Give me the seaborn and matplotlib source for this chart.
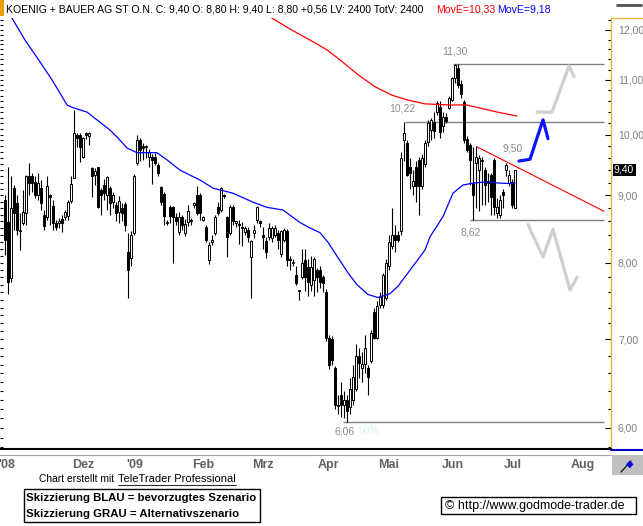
import numpy as np
import matplotlib
matplotlib.use("Agg")
import matplotlib.pyplot as plt
import matplotlib.ticker as mticker
from matplotlib.lines import Line2D
from matplotlib.patches import Rectangle
from matplotlib import font_manager
import seaborn as sns

# ---------------- data ----------------
open_ = [8.93, 8.59, 7.79, 9.12, 8.88, 8.47, 8.58, 8.72, 9.30, 9.30, 9.21, 9.00, 9.11, 8.70, 8.67, 9.00, 8.83, 8.58, 8.57, 8.63,
         8.67, 8.68, 8.91, 9.28, 10.00, 10.00, 9.62, 10.02, 9.98, 9.44, 9.32, 9.45, 9.08, 9.16, 9.00, 9.11, 8.90, 8.85, 8.74, 8.80,
         8.86, 8.15, 8.06, 8.43, 9.52, 9.91, 9.80, 9.78, 9.62, 9.62, 9.62, 9.49, 9.13, 9.02, 8.58, 8.81, 8.81, 8.66, 8.44, 8.66,
         8.42, 8.59, 8.62, 8.84, 9.00, 9.00, 8.62, 8.51, 8.04, 8.30, 8.42, 8.81, 8.77, 8.98, 8.66, 8.42, 8.81, 8.58, 8.55, 8.50,
         8.44, 8.47, 8.08, 8.42, 8.62, 8.60, 8.40, 8.31, 8.37, 8.35, 8.40, 8.43, 8.12, 8.33, 8.45, 8.04, 8.00, 7.83, 7.61, 7.81,
         8.04, 7.94, 7.69, 7.77, 7.90, 7.90, 7.80, 7.60, 7.02, 7.00, 6.66, 6.23, 6.35, 6.25, 6.30, 6.22, 6.30, 6.42, 6.80, 6.66,
         6.71, 6.66, 6.74, 7.34, 7.02, 7.43, 7.43, 7.53, 7.95, 8.23, 8.40, 8.40, 8.45, 9.90, 9.85, 9.45, 9.15, 9.45, 9.57, 9.15,
         9.50, 9.87, 10.08, 10.22, 10.40, 10.50, 10.15, 10.32, 10.48, 10.62, 11.04, 11.24, 10.92, 10.58, 9.92, 9.82, 9.20, 9.52, 9.40, 9.55,
         9.40, 9.21, 9.32, 9.57, 8.72, 8.70, 9.05, 9.40, 9.20, 9.21, 8.80]
high = [9.00, 9.46, 9.31, 9.16, 9.00, 8.72, 9.08, 9.32, 9.52, 9.36, 9.30, 9.36, 9.24, 8.77, 9.31, 9.02, 8.93, 8.62, 8.65, 8.70,
        8.77, 8.93, 9.30, 10.44, 10.02, 10.02, 9.96, 10.05, 10.04, 9.46, 9.44, 9.46, 9.12, 9.25, 9.30, 9.15, 9.05, 8.90, 8.98, 8.88,
        8.90, 8.43, 8.45, 9.33, 10.00, 9.95, 9.85, 9.82, 9.75, 9.66, 9.68, 9.52, 9.15, 9.05, 8.62, 8.85, 8.83, 8.72, 8.74, 8.70,
        8.64, 8.85, 8.65, 8.90, 9.14, 9.04, 8.68, 8.55, 8.30, 8.40, 8.70, 8.90, 9.13, 9.02, 8.68, 8.84, 8.84, 8.60, 8.62, 8.59,
        8.53, 8.51, 8.33, 8.55, 8.83, 8.62, 8.52, 8.36, 8.58, 8.53, 8.55, 8.47, 8.47, 8.50, 8.48, 8.10, 8.05, 7.95, 7.63, 8.20,
        8.20, 8.05, 8.10, 8.08, 7.93, 7.95, 7.83, 7.64, 7.05, 7.04, 6.68, 6.35, 6.50, 6.40, 6.35, 6.55, 6.70, 6.95, 6.90, 6.85,
        7.05, 6.70, 7.12, 7.40, 7.48, 7.60, 7.86, 8.05, 8.40, 8.80, 8.55, 8.45, 9.70, 10.22, 9.90, 9.60, 9.40, 9.55, 9.62, 9.66,
        9.90, 10.25, 10.30, 10.40, 10.60, 10.60, 10.40, 10.38, 10.70, 11.05, 11.30, 11.30, 11.00, 10.62, 9.98, 9.86, 9.78, 9.80, 9.65, 9.62,
        9.45, 9.35, 9.35, 9.60, 8.95, 9.00, 9.10, 9.52, 9.40, 9.25, 9.40]
low = [8.11, 7.57, 7.73, 8.47, 8.40, 8.18, 8.55, 8.55, 9.00, 9.05, 8.95, 8.93, 8.77, 8.47, 8.62, 8.55, 8.47, 8.47, 8.50, 8.44,
       8.62, 8.62, 8.88, 9.28, 9.78, 9.53, 9.60, 9.92, 9.82, 8.97, 9.16, 8.80, 8.70, 8.93, 8.77, 8.70, 8.80, 8.60, 8.58, 8.60,
       8.45, 7.53, 7.95, 8.40, 9.48, 9.55, 9.57, 9.60, 9.45, 9.17, 9.48, 9.30, 8.85, 8.55, 8.55, 8.58, 8.00, 8.55, 8.40, 8.47,
       8.38, 8.53, 8.55, 8.80, 8.70, 8.62, 8.60, 8.30, 7.98, 8.25, 8.40, 8.70, 8.74, 8.96, 8.08, 8.40, 8.55, 8.52, 8.27, 8.23,
       8.40, 8.30, 7.53, 8.35, 8.58, 8.52, 8.20, 8.07, 8.33, 8.30, 8.37, 8.20, 8.08, 8.30, 7.95, 7.90, 7.95, 7.70, 7.50, 7.78,
       7.62, 7.55, 7.62, 7.55, 7.60, 7.65, 7.60, 6.98, 6.65, 6.70, 6.20, 6.15, 6.12, 6.10, 6.06, 6.15, 6.25, 6.40, 6.55, 6.50,
       6.60, 6.35, 6.72, 7.00, 7.00, 7.40, 7.40, 7.50, 7.90, 8.20, 8.15, 8.30, 8.40, 9.55, 9.30, 9.10, 9.00, 8.90, 8.70, 9.10,
       9.45, 9.80, 9.90, 9.95, 10.35, 9.95, 10.05, 10.20, 10.45, 10.60, 10.95, 10.85, 10.65, 9.85, 9.70, 9.16, 8.62, 8.80, 8.75, 8.85,
       8.85, 8.90, 8.70, 8.70, 8.65, 8.65, 8.80, 9.30, 9.15, 8.80, 8.80]
close = [8.33, 7.74, 8.80, 8.72, 8.47, 8.45, 8.74, 9.30, 9.19, 9.19, 9.00, 9.19, 8.87, 8.53, 9.14, 8.97, 8.58, 8.52, 8.60, 8.58,
         8.74, 8.90, 9.18, 10.02, 9.94, 9.78, 9.94, 10.00, 10.02, 9.30, 9.38, 8.82, 9.00, 9.03, 9.29, 8.87, 9.00, 8.72, 8.91, 8.72,
         8.55, 7.90, 8.40, 9.30, 9.91, 9.74, 9.77, 9.80, 9.70, 9.57, 9.52, 9.35, 8.89, 8.68, 8.57, 8.68, 8.66, 8.60, 8.66, 8.55,
         8.56, 8.75, 8.60, 8.87, 8.72, 8.72, 8.66, 8.33, 8.25, 8.33, 8.66, 8.72, 9.11, 9.00, 8.37, 8.81, 8.60, 8.58, 8.54, 8.52,
         8.50, 8.37, 8.31, 8.47, 8.81, 8.57, 8.37, 8.15, 8.50, 8.50, 8.50, 8.33, 8.45, 8.47, 8.04, 8.05, 8.00, 7.72, 7.61, 8.00,
         7.80, 7.73, 7.94, 8.05, 7.80, 7.73, 7.72, 7.02, 6.70, 6.75, 6.25, 6.25, 6.25, 6.30, 6.18, 6.42, 6.56, 6.80, 6.72, 6.71,
         6.90, 6.56, 7.08, 7.02, 7.42, 7.54, 7.83, 8.00, 8.30, 8.40, 8.33, 8.33, 9.60, 10.02, 9.32, 9.35, 9.23, 9.15, 9.14, 9.60,
         9.86, 10.20, 10.26, 10.07, 10.56, 10.04, 10.32, 10.24, 10.66, 11.04, 11.29, 10.90, 10.73, 9.90, 9.74, 9.57, 9.00, 9.62, 9.60, 9.55,
         9.16, 9.20, 8.97, 8.82, 8.81, 8.93, 9.00, 9.49, 9.32, 8.85, 9.40]

# moving averages (trading-day index, value)
ma_blue_day = [1.0, 2.33, 6.67, 11.67, 15.67, 18.33, 20.67, 22.67, 27.33, 30.67, 35.0, 37.67, 40.67, 44.0, 50.67, 54.0,
               58.33, 65.0, 69.33, 76.0, 82.67, 87.33, 92.67, 98.33, 101.67, 105.0, 107.67, 109.33, 114.33, 117.33, 121.0,
               124.33, 128.33, 131.0, 134.33, 140.0, 141.67, 146.0, 149.33, 152.67, 156.0, 160.67, 165.0, 170.0]
ma_blue_val = [12.47, 12.25, 11.79, 11.35, 11.00, 10.75, 10.53, 10.48, 10.40, 10.26, 10.08, 9.94, 9.77, 9.69, 9.69, 9.57,
               9.40, 9.24, 9.11, 9.03, 8.89, 8.81, 8.77, 8.58, 8.50, 8.43, 8.29, 8.18, 7.86, 7.70, 7.57,
               7.53, 7.58, 7.68, 7.86, 8.18, 8.37, 8.67, 9.03, 9.16, 9.19, 9.21, 9.19, 9.18]
ma_red_day = [83.33, 89.0, 95.0, 101.67, 107.33, 111.67, 117.67, 123.33, 129.0, 134.33, 140.0, 148.33, 154.0, 159.33,
              165.0, 170.67]
ma_red_val = [12.47, 12.25, 12.02, 11.79, 11.59, 11.39, 11.10, 10.87, 10.71, 10.62, 10.55, 10.53, 10.53, 10.46,
              10.39, 10.33]

# horizontal levels
levels = [11.30, 10.22, 8.62, 6.06]
level_start = [149.3, 133.3, 155.0, 112.7]
level_end = 199.7
level_text = ["11,30", "10,22", "8,62", "6,06"]

# resistance trend line
trend_day = [157.3, 199.7]
trend_val = [9.79, 8.75]

# scenario sketches
blue_day = [171.33, 175.0, 179.33, 181.0]
blue_val = [9.55, 9.58, 10.26, 9.93]
grayup_day = [177.33, 182.33, 188.0, 189.67]
grayup_val = [10.40, 10.40, 11.27, 11.06]
graydn_day = [174.33, 179.33, 182.67, 188.33, 190.67]
graydn_val = [8.55, 8.08, 8.48, 7.63, 7.80]

month_pos = [0.67, 26.0, 43.33, 66.0, 86.0, 107.67, 128.0, 149.33, 169.33, 192.67]
month_labels = ["'08", "Dez", "'09", "Feb", "Mrz", "Apr", "Mai", "Jun", "Jul", "Aug"]
y_major = [6, 7, 8, 9, 10, 11, 12]

# ---------------- style ----------------
sns.set_theme(style="white")
plt.rcParams['font.family'] = ['Liberation Sans', 'DejaVu Sans']
names = {f.name for f in font_manager.fontManager.ttflist}
NARROW = 'Liberation Sans Narrow' if 'Liberation Sans Narrow' in names else 'Liberation Sans'

W, H = 643, 526
fig = plt.figure(figsize=(W / 100, H / 100), dpi=100)
fig.patch.set_facecolor('white')


def fx(x):
    return x / W


def fy(y):
    return 1 - y / H


ax = fig.add_axes([0, fy(449), fx(611), (449 - 18) / H])
ax.set_facecolor('white')
ax.set_yscale('log')
ax.set_xlim(-5 / 3, 202)
ax.set_ylim(5.784, 12.252)
ax.grid(False)

# candles
o = np.array(open_); h = np.array(high); l = np.array(low); c = np.array(close)
idx = np.arange(len(c))
up = c >= o
bot = np.minimum(o, c)
top = np.maximum(o, c)
hgt = np.maximum(top - bot, bot * 0.002)
ax.vlines(idx, l, h, color='black', lw=0.8, zorder=3)
ax.bar(idx, hgt, bottom=bot, width=0.72, color=np.where(up, 'white', 'black'),
       edgecolor='black', linewidth=0.7, zorder=4)

# moving averages
sns.lineplot(x=ma_blue_day, y=ma_blue_val, ax=ax, color='#0000ff', lw=0.9, zorder=5, estimator=None, sort=False)
sns.lineplot(x=ma_red_day, y=ma_red_val, ax=ax, color='#ff0000', lw=0.9, zorder=5, estimator=None, sort=False)

# levels
ax.hlines(levels, level_start, level_end, color='#808080', lw=1.0, zorder=2)
lab_style = dict(textcoords='offset points', ha='center', va='center', color='#8c8c8c', fontsize=7.5)
ax.annotate(level_text[0], xy=(150.0, levels[0]), xytext=(0, 9), **lab_style)
ax.annotate(level_text[1], xy=(132.3, levels[1]), xytext=(0, 9.5), **lab_style)
ax.annotate(level_text[2], xy=(155.3, levels[2]), xytext=(0, -9), **lab_style)
ax.annotate(level_text[3], xy=(113.3, levels[3]), xytext=(0, -6.5), **lab_style)
ax.annotate("9,50", xy=(169.3, 9.50), xytext=(0, 11.5), **lab_style)
ax.annotate("50%", xy=(117.8, levels[3]), xytext=(0, -6.5), textcoords='offset points', ha='left',
            va='center', color='#d0f4fa', fontsize=7.5)

# trend line
sns.lineplot(x=trend_day, y=trend_val, ax=ax, color='#ff0000', lw=0.8, zorder=5, estimator=None, sort=False)

# scenario sketches
sns.lineplot(x=grayup_day, y=grayup_val, ax=ax, color='#cfcfcf', lw=2.3, zorder=6, estimator=None, sort=False)
sns.lineplot(x=graydn_day, y=graydn_val, ax=ax, color='#cfcfcf', lw=2.3, zorder=6, estimator=None, sort=False)
sns.lineplot(x=blue_day, y=blue_val, ax=ax, color='#0a14ff', lw=2.3, zorder=6, estimator=None, sort=False)

# axes styling
for s in ['left', 'top']:
    ax.spines[s].set_visible(False)
ax.spines['bottom'].set_color('black')
ax.spines['bottom'].set_linewidth(1.5)
ax.spines['right'].set_color('#f0b43c')
ax.spines['right'].set_linewidth(1.0)

ax.yaxis.tick_right()
ax.yaxis.set_major_locator(mticker.FixedLocator(y_major))
ax.yaxis.set_major_formatter(mticker.FuncFormatter(lambda v, p: f"{v:.2f}".replace('.', ',')))
minor = [round(v, 1) for v in np.arange(5.8, 12.3, 0.2) if abs(v - round(v)) > 0.05]
ax.yaxis.set_minor_locator(mticker.FixedLocator(minor))
ax.yaxis.set_minor_formatter(mticker.NullFormatter())
ax.tick_params(axis='y', which='major', direction='in', length=4, width=0.8, color='black',
               labelsize=7.5, labelcolor='#808080', pad=5, right=True, left=False)
ax.tick_params(axis='y', which='minor', direction='in', length=2, width=0.8, color='black',
               right=True, left=False)
left_ticks = [round(v, 1) for v in np.arange(5.8, 12.3, 0.1)]
ax.hlines(left_ticks, 0, 2.5 / 611, transform=ax.get_yaxis_transform(), color='black', lw=0.8)

ax.set_xticks(month_pos)
ax.set_xticklabels(month_labels)
ax.tick_params(axis='x', length=0, pad=7, labelsize=9, labelcolor='#606060')
for t in ax.get_xticklabels():
    t.set_fontfamily(NARROW)
    t.set_fontweight('bold')
ax.set_xlabel('')
ax.set_ylabel('')

# ---------------- figure decorations ----------------
def fline(x0, y0, x1, y1, **kw):
    fig.add_artist(Line2D([fx(x0), fx(x1)], [fy(y0), fy(y1)], transform=fig.transFigure, **kw))


def frect(x0, y0, x1, y1, **kw):
    fig.add_artist(Rectangle((fx(x0), fy(y1)), fx(x1) - fx(x0), fy(y0) - fy(y1), transform=fig.transFigure, **kw))


frect(0, 0, 4, 16, facecolor='#f39c12', edgecolor='none')
fline(617, 5, 641, 5, color='#505050', lw=2)
fline(611, 18, 643, 18, color='#f0b43c', lw=1)
fline(0, 455, 611, 455, color='#a0a0a0', lw=0.8)
fline(611, 450, 643, 450, color='#0000c0', lw=1.5)
frect(612, 455, 643, 475, facecolor='#c0c0c0', edgecolor='none')
fline(621, 472, 631, 461, color='black', lw=0.8)
fig.text(fx(630), fy(464), '\u25C6', color='#0000e0', fontsize=7, ha='center', va='center')

fig.text(fx(6), fy(9), "KOENIG + BAUER AG ST O.N. C: 9,40 O: 8,80 H: 9,40 L: 8,80 +0,56 LV: 2400 TotV: 2400",
         fontsize=7.6, color='black', va='center', ha='left')
fig.text(fx(436), fy(9), "MovE=10,33", fontsize=7.6, color='#ff0000', va='center', ha='left')
fig.text(fx(497), fy(9), "MovE=9,18", fontsize=7.6, color='#0000ff', va='center', ha='left')

fig.text(fx(614), fy(170), "9,40", fontsize=7.5, color='white', va='center', ha='left',
         bbox=dict(boxstyle='square,pad=0.12', facecolor='black', edgecolor='none'))

fig.text(fx(39), fy(479), "Chart erstellt mit", fontsize=7.4, color='black', va='center', ha='left')
fig.text(fx(118), fy(479), "TeleTrader Professional", fontsize=8.0, color='black', va='center', ha='left')
fline(118, 485, 236, 485, color='black', lw=0.6)

frect(24, 489, 260, 522, facecolor='white', edgecolor='black', lw=1)
fig.text(fx(26), fy(498), "Skizzierung BLAU = bevorzugtes Szenario", fontsize=8.2, fontweight='bold',
         color='black', va='center', ha='left')
fig.text(fx(26), fy(514), "Skizzierung GRAU = Alternativszenario", fontsize=8.2, fontweight='bold',
         color='black', va='center', ha='left')

frect(441, 497, 636, 514, facecolor='white', edgecolor='black', lw=1)
fig.text(fx(445), fy(505.5), "\u00a9 http://www.godmode-trader.de", fontsize=9, color='black',
         va='center', ha='left')

fig.savefig('out.png', dpi=100)
